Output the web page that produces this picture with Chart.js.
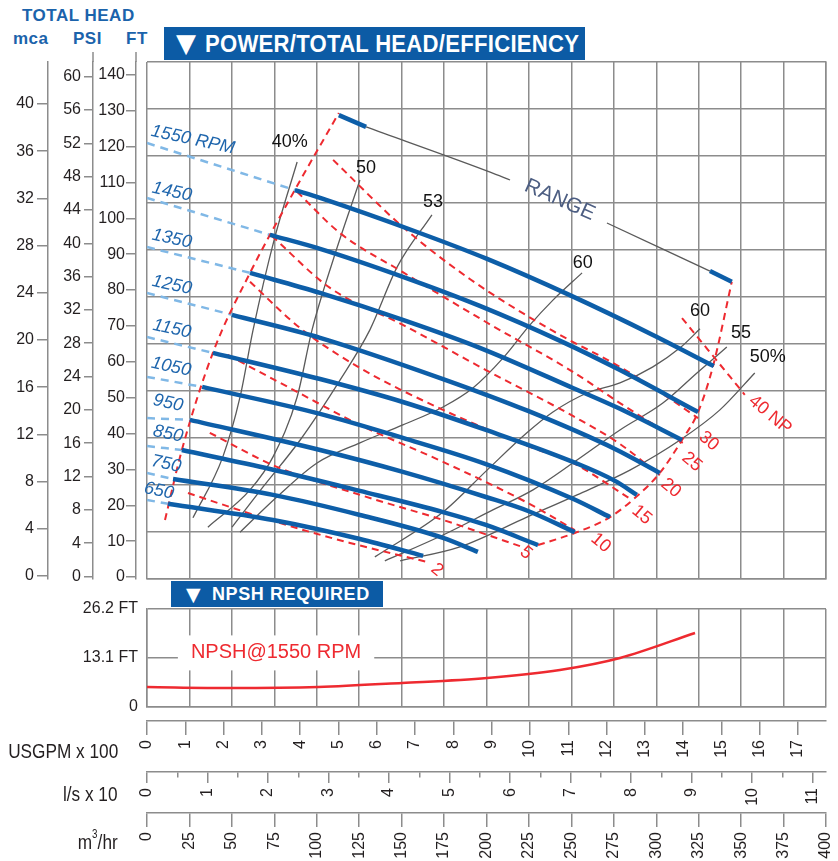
<!DOCTYPE html>
<html>
<head>
<meta charset="utf-8">
<title>Power / Total head / Efficiency</title>
<script src="https://cdn.jsdelivr.net/npm/chart.js@4.4.1/dist/chart.umd.min.js"></script>
<style>
  body { margin: 0; background: #fff; }
  #page { position: relative; width: 838px; height: 861px; overflow: hidden; font-family: "Liberation Sans", Arial, sans-serif; }
  canvas { position: absolute; left: 0; }
  .hd { position: absolute; color: #1b63ab; font-weight: bold; font-size: 17px; letter-spacing: 0.5px; line-height: 1; white-space: nowrap; }
  .band { position: absolute; background: #0c5ba5; color: #fff; font-weight: bold; white-space: nowrap; z-index: 2; }
  .band span { position: absolute; top: 0; }
  .tri { font-family: "DejaVu Sans", sans-serif; font-weight: normal; }
  .btxt { transform-origin: left center; }
  .ttl { position: absolute; right: 720px; font-size: 21px; color: #231f20; white-space: nowrap; line-height: 1; transform: scaleX(0.82); transform-origin: right center; }
  .ttl sup { font-size: 12px; vertical-align: top; position: relative; top: -3px; }
</style>
</head>
<body>
<div id="page">
  <div class="hd" style="left:22px;top:7px">TOTAL HEAD</div>
  <div class="hd" style="left:13px;top:30px">mca</div>
  <div class="hd" style="left:73px;top:30px">PSI</div>
  <div class="hd" style="left:126px;top:30px">FT</div>

  <canvas id="main" width="838" height="590" style="top:0"></canvas>
  <canvas id="npsh" width="838" height="261" style="top:600px"></canvas>

  <div class="band" style="left:164px;top:27px;width:421px;height:33px;">
    <span class="tri" style="left:12px;font-size:26px;line-height:33px;">▼</span>
    <span class="btxt" style="left:41px;font-size:24px;line-height:33px;letter-spacing:0.3px;transform:scaleX(0.92);">POWER/TOTAL HEAD/EFFICIENCY</span>
  </div>
  <div class="band" style="left:171px;top:581px;width:212px;height:26px;">
    <span class="tri" style="left:15px;font-size:19px;line-height:26px;">▼</span>
    <span class="btxt" style="left:41px;font-size:18px;line-height:26px;letter-spacing:0.6px;">NPSH REQUIRED</span>
  </div>

  <div class="ttl" style="top:740px">USGPM x 100</div>
  <div class="ttl" style="top:783px">l/s x 10</div>
  <div class="ttl" style="top:831px">m<sup>3</sup>/hr</div>
</div>

<script>
// ---- axis ticks ----
const FT_TICKS = [0, 10, 20, 30, 40, 50, 60, 70, 80, 90, 100, 110, 120, 130, 140];
const PSI_TICKS = [0, 4, 8, 12, 16, 20, 24, 28, 32, 36, 40, 44, 48, 52, 56, 60];
const MCA_TICKS = [0, 4, 8, 12, 16, 20, 24, 28, 32, 36, 40];
const MCA_GRID = [0, 4, 8, 12, 16, 20, 24, 28, 32, 36, 40, 44];
const USGPM_TICKS = [0, 1, 2, 3, 4, 5, 6, 7, 8, 9, 10, 11, 12, 13, 14, 15, 16, 17];
const LS_TICKS = [0, 0.5, 1, 1.5, 2, 2.5, 3, 3.5, 4, 4.5, 5, 5.5, 6, 6.5, 7, 7.5, 8, 8.5, 9, 9.5, 10, 10.5, 11];
const M3H_TICKS = [0, 25, 50, 75, 100, 125, 150, 175, 200, 225, 250, 275, 300, 325, 350, 375, 400];
const NPSH_TICKS = [0, 13.1, 26.2];
const NPSH_TICK_LABELS = ['0', '13.1 FT', '26.2 FT'];

// axis ranges (x in USGPM x 100, head in FT)
const USGPM_MAX = 17.73, LS_MAX = 11.22, M3H_MAX = 400;
const FT_MIN = -0.56, FT_MAX = 143.6;
const PSI_MIN = -0.30, PSI_MAX = 61.76;
const MCA_MIN = -0.25, MCA_MAX = 43.56;
const NPSH_MAX = 26.2;

// ---- head curves per speed: [USGPM x100, FT] ----
const RPM = [1550, 1450, 1350, 1250, 1150, 1050, 950, 850, 750, 650];
const HEAD_1550 = [[3.86, 107.9], [4.52, 105.7], [7.05, 96.2], [8.88, 88.7], [11.04, 78.6], [13.21, 67.5], [14.80, 58.8]];
const HEAD_1450 = [[3.21, 95.4], [4.52, 91.5], [6.68, 83.7], [8.69, 75.6], [10.86, 65.5], [12.35, 57.7], [14.39, 46.0]];
const HEAD_1350 = [[2.69, 84.8], [4.52, 79.2], [6.68, 71.7], [8.69, 63.9], [11.12, 52.7], [12.35, 46.9], [13.97, 38.2]];
const HEAD_1250 = [[2.22, 73.1], [4.52, 66.7], [7.73, 55.2], [9.95, 46.3], [12.22, 35.7], [13.39, 29.0]];
const HEAD_1150 = [[1.72, 62.5], [4.52, 55.2], [6.68, 48.8], [8.85, 41.0], [11.12, 32.1], [12.22, 26.8], [12.79, 22.9]];
const HEAD_1050 = [[1.44, 53.0], [4.52, 45.5], [6.68, 38.8], [8.85, 31.5], [11.12, 21.8], [12.09, 16.7]];
const HEAD_950 = [[1.12, 43.8], [4.52, 35.4], [6.68, 29.3], [8.85, 22.3], [9.95, 18.4], [11.17, 12.5]];
const HEAD_850 = [[0.91, 35.4], [3.21, 30.1], [5.56, 24.0], [7.73, 18.1], [8.85, 14.5], [10.21, 8.9]];
const HEAD_750 = [[0.68, 27.3], [3.29, 22.9], [5.56, 17.3], [7.73, 10.9], [8.64, 7.0]];
const HEAD_650 = [[0.55, 20.4], [3.29, 15.9], [5.56, 10.6], [7.21, 5.9]];
const HEADS = [HEAD_1550, HEAD_1450, HEAD_1350, HEAD_1250, HEAD_1150, HEAD_1050, HEAD_950, HEAD_850, HEAD_750, HEAD_650];
// head at zero flow for the dashed start of each curve
const SHUTOFF_FT = [121.0, 105.7, 92.0, 79.2, 66.9, 55.8, 44.3, 36.5, 29.0, 21.5];

// operating range line
const RANGE_START = [[5.01, 128.8], [5.72, 125.5]];
const RANGE_MID_A = [[5.72, 125.5], [8.96, 112.9], [9.48, 110.7]];
const RANGE_MID_B = [[12.01, 98.7], [14.70, 85.3]];
const RANGE_END = [[14.70, 85.3], [15.27, 82.3]];

// envelope of the power lines
const LIMIT_LEFT = [[0.47, 15.9], [0.91, 35.4], [1.72, 62.5], [2.69, 84.8], [3.86, 107.9], [5.01, 129.4]];
const LIMIT_RIGHT = [[10.21, 8.9], [11.23, 12.5], [12.09, 16.7], [12.79, 22.5], [13.39, 29.0], [13.97, 38.2], [14.39, 46.0], [14.78, 58.8], [15.27, 82.3]];

// ---- efficiency curves ----
const EFF_LABELS = ['40%', '50', '53', '60', '60', '55', '50%'];
const EFF_40 = [[1.20, 16.5], [1.98, 33.5], [2.43, 50.2], [2.77, 68.9], [3.32, 94.0], [3.92, 115.7]];
const EFF_50 = [[1.59, 13.9], [2.69, 24.3], [3.29, 33.5], [3.92, 50.2], [4.31, 68.9], [4.86, 88.4], [5.56, 110.7]];
const EFF_53 = [[2.22, 13.9], [3.03, 25.1], [4.00, 38.2], [5.04, 54.9], [5.82, 68.9], [6.53, 86.4], [7.44, 101.0]];
const EFF_60A = [[2.43, 12.5], [3.39, 22.3], [4.44, 31.8], [5.56, 37.4], [6.68, 42.4], [7.73, 47.4], [8.51, 52.7], [9.30, 61.1], [10.00, 70.3], [10.60, 77.2], [11.36, 84.8]];
const EFF_60B = [[5.95, 5.6], [7.73, 18.1], [8.88, 29.8], [9.92, 40.2], [10.60, 46.0], [11.49, 51.3], [12.35, 54.1], [13.21, 58.6], [13.92, 63.9], [14.44, 69.2]];
const EFF_55 = [[6.21, 4.5], [7.73, 11.7], [9.03, 18.7], [10.08, 24.3], [11.23, 32.6], [12.35, 41.0], [13.47, 48.5], [14.36, 56.9], [15.14, 64.1]];
const EFF_50B = [[6.61, 4.5], [8.17, 8.4], [9.92, 16.7], [11.23, 22.9], [12.61, 29.8], [13.92, 38.2], [14.96, 46.6], [15.87, 56.9]];
const EFFS = [EFF_40, EFF_50, EFF_53, EFF_60A, EFF_60B, EFF_55, EFF_50B];

// ---- power lines (HP) ----
const PWR_LABELS = ['2', '5', '10', '15', '20', '25', '30', '40 NP'];
const PWR_2 = [[1.07, 23.4], [3.39, 15.3], [5.30, 9.5], [7.31, 4.2]];
const PWR_5 = [[1.64, 40.2], [3.39, 30.7], [5.56, 22.9], [7.73, 15.9], [9.74, 8.6]];
const PWR_10 = [[2.11, 61.9], [3.73, 52.7], [5.56, 42.4], [7.73, 32.1], [9.95, 20.6], [11.17, 13.1]];
const PWR_15 = [[2.69, 82.3], [4.00, 69.4], [5.56, 58.3], [7.73, 46.6], [9.95, 36.5], [11.12, 31.8], [12.66, 21.5]];
const PWR_20 = [[3.26, 95.1], [4.78, 80.6], [6.68, 70.3], [8.85, 57.7], [11.12, 44.9], [12.35, 37.1], [13.39, 28.4]];
const PWR_25 = [[3.92, 107.4], [5.04, 95.9], [6.68, 85.0], [8.85, 71.1], [11.12, 57.2], [12.35, 48.5], [13.99, 37.4]];
const PWR_30 = [[4.86, 116.3], [6.68, 97.6], [8.43, 83.1], [10.60, 68.6], [12.35, 58.6], [13.39, 51.6], [14.39, 44.3]];
const PWR_40 = [[13.97, 72.2], [15.61, 50.8]];
const PWRS = [PWR_2, PWR_5, PWR_10, PWR_15, PWR_20, PWR_25, PWR_30, PWR_40];

// ---- NPSH required at 1550 rpm ----
const NPSH_X = [0, 2.17, 4.47, 6.66, 8.88, 10.78, 12.35, 14.31];
const NPSH_FT = [5.35, 5.08, 5.35, 6.42, 7.75, 9.89, 13.10, 19.79];

// label anchors (data units)
const RPM_LABEL_AT = [[1.20, 121.9], [0.65, 107.4], [0.65, 94.3], [0.65, 81.4], [0.65, 69.2], [0.63, 58.6], [0.55, 48.5], [0.55, 39.9], [0.50, 31.5], [0.31, 24.0]];
const EFF_LABEL_AT = [[3.73, 121.3], [5.72, 114.1], [7.47, 104.6], [11.38, 87.6], [14.44, 74.2], [15.51, 68.0], [16.21, 61.3]];
const PWR_LABEL_AT = [[7.57, 2.0], [9.90, 6.7], [11.85, 9.5], [12.92, 17.3], [13.68, 24.8], [14.23, 32.1], [14.67, 37.9], [16.27, 45.2]];
const RANGE_LABEL_AT = [10.78, 105.1];
const NPSH_LABEL_AT = [3.37, 14.6];

// ---- styles ----
const INK = '#231f20';
const GRID = '#8c8c8c';
const BLUE = '#0d5ea8';
const SKY = '#80b8e6';
const RED = '#ee2a30';
const GREY = '#5a5a5a';

function hasFont(name) {
  const c = document.createElement('canvas').getContext('2d');
  const probe = 'mmmmmmmmmmlli 0123456789';
  c.font = '48px monospace';
  const w = c.measureText(probe).width;
  c.font = '48px "' + name + '", monospace';
  return c.measureText(probe).width !== w;
}
const NARROW = hasFont('Liberation Sans Narrow');
const TICK_FONT = NARROW ? { family: '"Liberation Sans Narrow"', size: 18 } : { family: '"Liberation Sans"', size: 16 };

// fixed size axis boxes, no overflow padding
function boxSize(size) {
  return s => {
    if (s.isHorizontal()) s.height = size; else s.width = size;
    s.paddingLeft = 0; s.paddingRight = 0; s.paddingTop = 0; s.paddingBottom = 0;
  };
}
function fixedTicks(values) {
  return s => { s.ticks = values.map(v => ({ value: v })); };
}

function leftAxis(min, max, ticks, weight, width, tickLength, padding) {
  return {
    type: 'linear', position: 'left', weight, min, max, bounds: 'data',
    afterBuildTicks: fixedTicks(ticks), afterFit: boxSize(width),
    grid: { drawOnChartArea: false, drawTicks: true, tickLength, color: GRID, lineWidth: 1.5 },
    border: { display: true, color: GRID, width: 1.5 },
    ticks: { padding, color: INK, font: TICK_FONT, autoSkip: false, callback: v => String(v) }
  };
}

function gridAxis(position, min, max, ticks) {
  return {
    type: 'linear', position, weight: -1, min, max, bounds: 'data',
    afterBuildTicks: fixedTicks(ticks), afterFit: boxSize(0),
    ticks: { display: false },
    grid: { color: GRID, lineWidth: 1.5, drawTicks: false },
    border: { display: true, color: GRID, width: 1.5 }
  };
}

function spacer(position, weight, size) {
  return {
    type: 'linear', position, weight, min: 0, max: 1, display: true,
    afterFit: boxSize(size),
    ticks: { display: false }, grid: { display: false }, border: { display: false }
  };
}

function bottomAxis(min, max, ticks, weight, height, tickLength) {
  return {
    type: 'linear', position: 'bottom', weight, min, max, bounds: 'data',
    afterBuildTicks: fixedTicks(ticks), afterFit: boxSize(height),
    grid: {
      drawOnChartArea: false, drawTicks: true, tickLength, color: GRID, lineWidth: 1.5,
      // half steps get a short tick
      tickBorderDash: c => (c.tick && !Number.isInteger(c.tick.value)) ? [5, 40] : []
    },
    border: { display: true, color: GRID, width: 1.5 },
    ticks: {
      minRotation: 90, maxRotation: 90, padding: 5, autoSkip: false, color: INK, font: TICK_FONT,
      callback: v => Number.isInteger(v) ? String(v) : ''
    }
  };
}

function line(points, color, width, dash, order) {
  return {
    data: points, xAxisID: 'x', yAxisID: 'y',
    borderColor: color, borderWidth: width, borderDash: dash, order,
    cubicInterpolationMode: 'monotone', pointRadius: 0, fill: false, borderCapStyle: 'butt'
  };
}

// text annotations placed in data units
function notesPlugin(items) {
  function draw(chart, list) {
    const { ctx, scales } = chart;
    list.forEach(n => {
      ctx.save();
      ctx.translate(scales.x.getPixelForValue(n.at[0]), scales.y.getPixelForValue(n.at[1]));
      ctx.rotate((n.rot || 0) * Math.PI / 180);
      ctx.font = n.font;
      ctx.textAlign = 'center';
      ctx.textBaseline = 'middle';
      if (n.bg) {
        const w = ctx.measureText(n.text).width + 26;
        ctx.fillStyle = '#fff';
        ctx.fillRect(-w / 2, -17, w, 35);
      }
      ctx.fillStyle = n.color;
      ctx.fillText(n.text, 0, 0);
      ctx.restore();
    });
  }
  return {
    id: 'notes',
    beforeDatasetsDraw(chart) { draw(chart, items.filter(n => n.bg)); },
    afterDatasetsDraw(chart) { draw(chart, items.filter(n => !n.bg)); }
  };
}

// FT and PSI axis lines run a little above the plot
const axisCaps = {
  id: 'axisCaps',
  afterDraw(chart) {
    const { ctx, chartArea } = chart;
    ['y', 'psi'].forEach(id => {
      const s = chart.scales[id];
      ctx.save();
      ctx.strokeStyle = GRID;
      ctx.lineWidth = 1.5;
      ctx.beginPath();
      ctx.moveTo(s.right, chartArea.top - 10);
      ctx.lineTo(s.right, chartArea.top);
      ctx.stroke();
      ctx.restore();
    });
  }
};

// ---- main chart ----
const mainSets = [];
HEADS.forEach((h, i) => {
  mainSets.push(line(h, BLUE, 4.5, [], 1));
  mainSets.push(line([[0, SHUTOFF_FT[i]], h[0]], SKY, 2.5, [8, 6], 4));
});
mainSets.push(line(RANGE_START, BLUE, 4.5, [], 1));
mainSets.push(line(RANGE_END, BLUE, 4.5, [], 1));
mainSets.push(line(RANGE_MID_A, GREY, 1.3, [], 3));
mainSets.push(line(RANGE_MID_B, GREY, 1.3, [], 3));
PWRS.forEach(p => mainSets.push(line(p, RED, 2, [7, 5], 2)));
mainSets.push(line(LIMIT_LEFT, RED, 2, [7, 5], 2));
mainSets.push(line(LIMIT_RIGHT, RED, 2, [7, 5], 2));
EFFS.forEach(e => mainSets.push(line(e, GREY, 1.3, [], 3)));

const mainNotes = [];
RPM.forEach((r, i) => mainNotes.push({
  text: i === 0 ? r + ' RPM' : String(r), at: RPM_LABEL_AT[i],
  font: 'italic 18px "Liberation Sans"', color: '#1f66ad', rot: 12
}));
EFF_LABELS.forEach((t, i) => mainNotes.push({ text: t, at: EFF_LABEL_AT[i], font: '18px "Liberation Sans"', color: '#111' }));
PWR_LABELS.forEach((t, i) => mainNotes.push({ text: t, at: PWR_LABEL_AT[i], font: '18px "Liberation Sans"', color: RED, rot: 40 }));
mainNotes.push({ text: 'RANGE', at: RANGE_LABEL_AT, font: '21px "Liberation Sans"', color: '#4d5e82', rot: 24 });

new Chart(document.getElementById('main'), {
  type: 'line',
  data: { datasets: mainSets },
  options: {
    responsive: false, animation: false, devicePixelRatio: 1,
    layout: { padding: { left: 0, top: 62, right: 12, bottom: 11 } },
    plugins: { legend: { display: false }, tooltip: { enabled: false } },
    scales: {
      x: { type: 'linear', min: 0, max: USGPM_MAX, display: false },
      xg: gridAxis('bottom', 0, M3H_MAX, M3H_TICKS),
      yg: gridAxis('right', 0, 44, MCA_GRID),
      gap: spacer('left', 0, 11),
      y: leftAxis(FT_MIN, FT_MAX, FT_TICKS, 1, 43, 10, 1),
      psi: leftAxis(PSI_MIN, PSI_MAX, PSI_TICKS, 2, 45, 9, 3),
      mca: leftAxis(MCA_MIN, MCA_MAX, MCA_TICKS, 3, 48, 11, 3)
    }
  },
  plugins: [notesPlugin(mainNotes), axisCaps]
});

// ---- NPSH chart with the flow axes ----
const npshSets = [line(NPSH_X.map((x, i) => [x, NPSH_FT[i]]), RED, 2.5, [], 1)];
const npshNotes = [{ text: 'NPSH@1550 RPM', at: NPSH_LABEL_AT, font: '20px "Liberation Sans"', color: RED, bg: true }];

new Chart(document.getElementById('npsh'), {
  type: 'line',
  data: { datasets: npshSets },
  options: {
    responsive: false, animation: false, devicePixelRatio: 1,
    layout: { padding: { left: 0, top: 9, right: 12, bottom: 0 } },
    plugins: { legend: { display: false }, tooltip: { enabled: false } },
    scales: {
      xg: gridAxis('bottom', 0, M3H_MAX, M3H_TICKS),
      gap: spacer('bottom', 0, 14),
      x: bottomAxis(0, USGPM_MAX, USGPM_TICKS, 1, 51, 14),
      ls: bottomAxis(0, LS_MAX, LS_TICKS, 2, 41, 11),
      m3: bottomAxis(0, M3H_MAX, M3H_TICKS, 3, 48, 14),
      y: {
        type: 'linear', position: 'left', min: 0, max: NPSH_MAX, bounds: 'data',
        afterBuildTicks: fixedTicks(NPSH_TICKS), afterFit: boxSize(147),
        grid: { color: GRID, lineWidth: 1.5, drawTicks: false },
        border: { display: true, color: GRID, width: 1.5 },
        ticks: { padding: 9, color: INK, font: TICK_FONT, autoSkip: false, callback: (v, i) => NPSH_TICK_LABELS[i] }
      }
    }
  },
  plugins: [notesPlugin(npshNotes)]
});
</script>
</body>
</html>
